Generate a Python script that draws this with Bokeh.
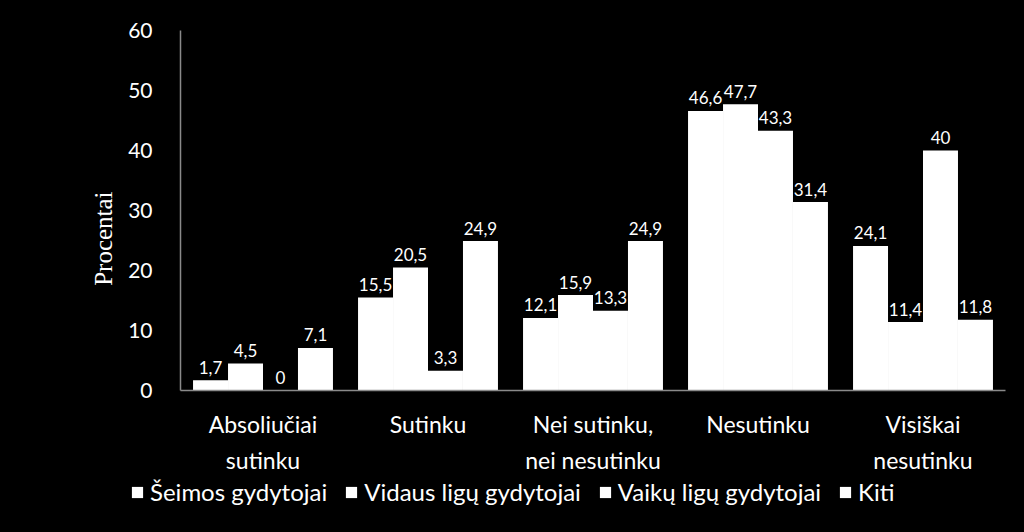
from bokeh.plotting import figure
from bokeh.layouts import column
from bokeh.models import ColumnDataSource, FixedTicker, Legend, LegendItem, Range1d
from bokeh.transform import dodge
from bokeh.core.properties import value
from bokeh.embed import file_html
from bokeh.resources import INLINE

categories = ["Absoliučiai\nsutinku", "Sutinku", "Nei sutinku,\nnei nesutinku", "Nesutinku", "Visiškai\nnesutinku"]
series_names = ["Šeimos gydytojai", "Vidaus ligų gydytojai", "Vaikų ligų gydytojai", "Kiti"]
seimos = [1.7, 15.5, 12.1, 46.6, 24.1]
vidaus = [4.5, 20.5, 15.9, 47.7, 11.4]
vaiku = [0, 3.3, 13.3, 43.3, 40]
kiti = [7.1, 24.9, 24.9, 31.4, 11.8]
y_ticks = [0, 10, 20, 30, 40, 50, 60]

series = [seimos, vidaus, vaiku, kiti]
bar_w = 0.212
offsets = [-1.5 * bar_w, -0.5 * bar_w, 0.5 * bar_w, 1.5 * bar_w]

FONT = "Lato"
MAIN_H = 476
BG = {"background-color": "black"}

p = figure(width=1024, height=MAIN_H, output_backend="svg", toolbar_location=None,
           x_range=Range1d(0, 5), y_range=Range1d(0, 60),
           min_border_left=180, min_border_right=19, min_border_top=30,
           min_border_bottom=MAIN_H - 394)
p.background_fill_color = "black"
p.border_fill_color = "black"
p.outline_line_color = None
p.xgrid.visible = False
p.ygrid.visible = False
p.styles = BG

xs = [i + 0.5 for i in range(len(categories))]
sources = []
for vals, off in zip(series, offsets):
    src = ColumnDataSource(dict(x=xs, y=vals, lab=[("%g" % v).replace(".", ",") for v in vals]))
    sources.append((src, off))
    p.vbar(x=dodge("x", off), top="y", width=bar_w, source=src,
           fill_color="white", line_color=None)
    p.text(x=dodge("x", off), y="y", text="lab", source=src, y_offset=-13,
           text_align="center", text_baseline="alphabetic", text_color="white",
           text_font=value(FONT), text_font_size="17px")

# axes
p.yaxis.ticker = FixedTicker(ticks=y_ticks)
p.yaxis.axis_label = "Procentai" + "\u00a0" * 9
p.yaxis.axis_label_text_font = "Liberation Serif"
p.yaxis.axis_label_text_font_style = "normal"
p.yaxis.axis_label_text_font_size = "25px"
p.yaxis.axis_label_text_color = "white"
p.yaxis.axis_label_standoff = 8
p.yaxis.major_label_text_font = FONT
p.yaxis.major_label_text_font_size = "21px"
p.yaxis.major_label_text_color = "white"
p.yaxis.major_label_standoff = 22
p.yaxis.major_tick_line_color = None
p.yaxis.minor_tick_line_color = None
p.yaxis.axis_line_color = "#8a8a8a"
p.yaxis.axis_line_width = 1.5

p.xaxis.ticker = FixedTicker(ticks=xs)
p.xaxis.major_label_overrides = {x: c for x, c in zip(xs, categories)}
p.xaxis.major_label_text_font = FONT
p.xaxis.major_label_text_font_size = "23px"
p.xaxis.major_label_text_color = "white"
p.xaxis.major_label_text_line_height = 1.3
p.xaxis.major_label_standoff = 13
p.xaxis.major_tick_line_color = None
p.xaxis.minor_tick_line_color = None
p.xaxis.axis_line_color = "#8a8a8a"
p.xaxis.axis_line_width = 1.5

# legend strip below the chart
LEG_H = 532 - MAIN_H
q = figure(width=1024, height=LEG_H, output_backend="svg", toolbar_location=None,
           x_range=Range1d(0, 5), y_range=Range1d(0, 60),
           x_axis_type=None, y_axis_type=None, min_border=0)
q.background_fill_color = "black"
q.border_fill_color = "black"
q.outline_line_color = None
q.xgrid.visible = False
q.ygrid.visible = False
q.styles = BG
for fig in (p, q):
    if "frame_align" in fig.properties():
        fig.frame_align = False
items = []
for (src, off), name in zip(sources, series_names):
    r = q.vbar(x=dodge("x", off), top="y", width=bar_w, source=src,
               fill_color="white", line_color=None, visible=False)
    items.append(LegendItem(label=name, renderers=[r]))
legend = Legend(items=items, orientation="horizontal", location=(130, 26),
                background_fill_alpha=0, border_line_color=None,
                label_text_color="white", label_text_font=FONT, label_text_font_size="24px",
                glyph_width=14, glyph_height=14, label_standoff=6, spacing=17,
                padding=0, margin=0)
q.add_layout(legend, "center")

layout = column(p, q, spacing=0)
layout.styles = BG
html = file_html(layout, INLINE)
html = html.replace("<body>", '<body style="background-color:black;margin:0">', 1)
open("out.html", "w").write(html)
